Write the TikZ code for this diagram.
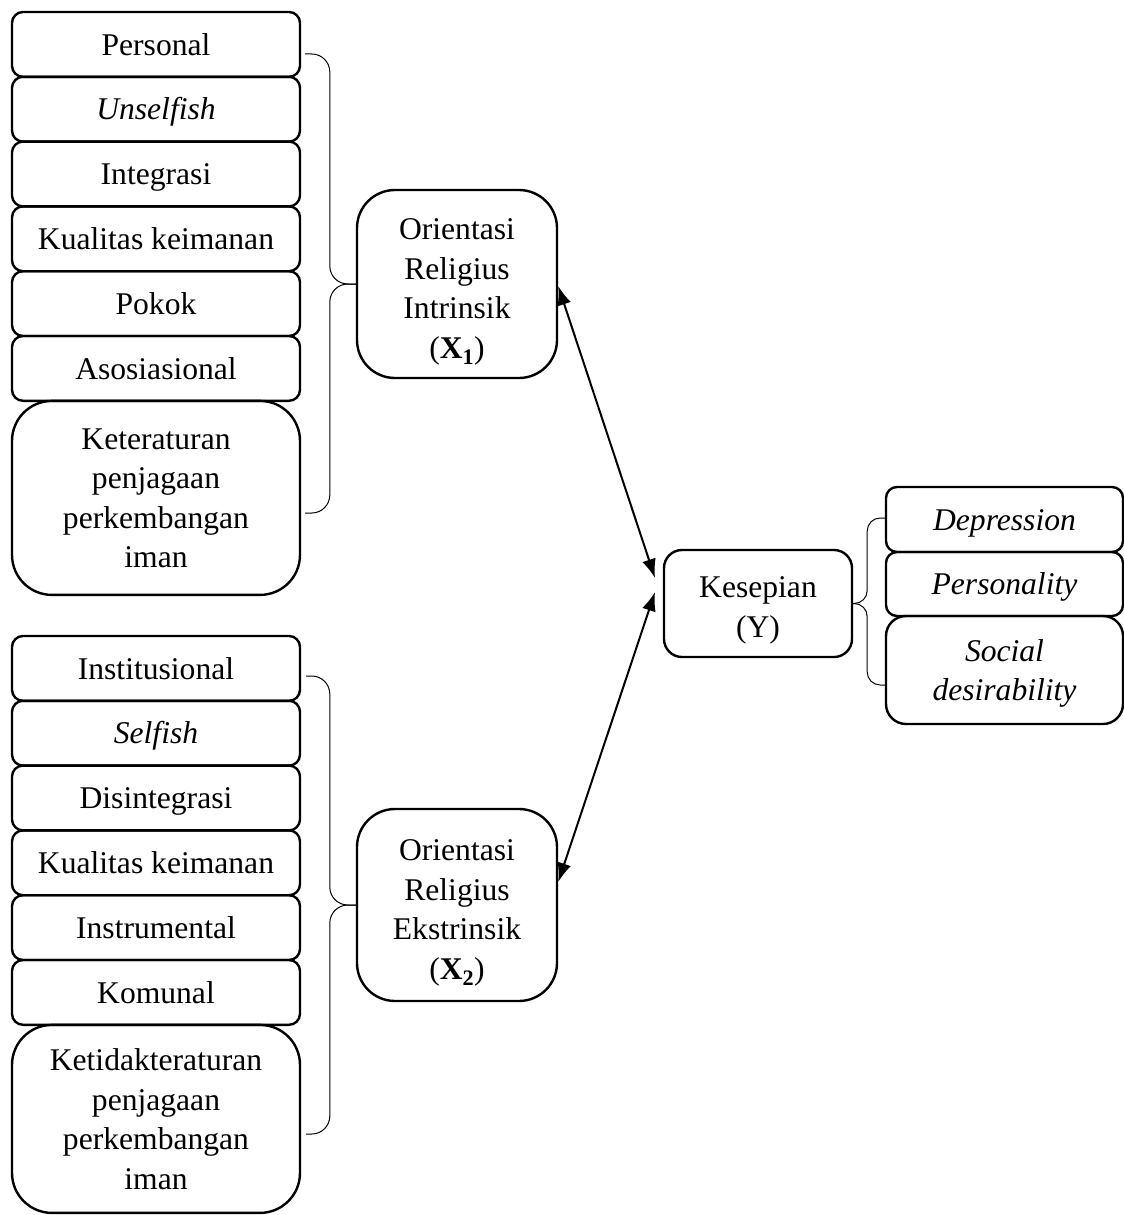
\documentclass[tikz,border=0pt]{standalone}
\usepackage{fontspec}
\setmainfont{Liberation Serif}
\usetikzlibrary{arrows.meta}

\tikzset{
	kotakdasar/.style={draw,line width=2.4pt,rounded corners=11pt,inner sep=0pt,
		minimum width=288pt,minimum height=64.8pt,align=center,text depth=0pt,
		font=\fontsize{31.6}{39.5}\selectfont},
	kotak/.style={kotakdasar,text height=21.5pt},
	kotakbesar/.style={kotakdasar,rounded corners=40pt},
	kurawal/.style={line width=1pt,rounded corners=18pt},
	panah/.style={{Latex[length=19pt,width=14pt]}-{Latex[length=19pt,width=14pt]},line width=2pt}
}

\begin{document}
\begin{tikzpicture}[x=1pt,y=-1pt]
			\useasboundingbox (0,0) rectangle (1124,1215);
			% indikator intrinsik
			\node[kotak] (personal) at (156,44.4) {Personal};
			\node[kotak] (unselfish) at (156,109.2) {\textit{Unselfish}};
			\node[kotak] (integrasi) at (156,174) {Integrasi};
			\node[kotak] (kualitasa) at (156,238.8) {Kualitas keimanan};
			\node[kotak] (pokok) at (156,303.6) {Pokok};
			\node[kotak] (asosiasional) at (156,368.4) {Asosiasional};
			\node[kotakbesar,minimum height=194pt] (keteraturan) at (156,497.9) {Keteraturan\\penjagaan\\perkembangan\\iman};
			
			% indikator ekstrinsik
			\node[kotak] (institusional) at (156,668.4) {Institusional};
			\node[kotak] (selfish) at (156,733.2) {\textit{Selfish}};
			\node[kotak] (disintegrasi) at (156,798) {Disintegrasi};
			\node[kotak] (kualitasb) at (156,862.8) {Kualitas keimanan};
			\node[kotak] (instrumental) at (156,927.6) {Instrumental};
			\node[kotak] (komunal) at (156,992.4) {Komunal};
			\node[kotakbesar,minimum height=188pt] (ketidakteraturan) at (156,1118.9) {Ketidakteraturan\\penjagaan\\perkembangan\\iman};
			
			% variabel
			\node[kotakdasar,rounded corners=38pt,minimum width=200pt,minimum height=188pt] (xsatu) at (457,284) {\rule{0pt}{30pt}Orientasi\\Religius\\Intrinsik\\(\textbf{X}\textsubscript{\textbf{1}})};
			\node[kotakdasar,rounded corners=38pt,minimum width=200pt,minimum height=192pt] (xdua) at (457,905) {\rule{0pt}{30pt}Orientasi\\Religius\\Ekstrinsik\\(\textbf{X}\textsubscript{\textbf{2}})};
			\node[kotakdasar,rounded corners=18pt,minimum width=188pt,minimum height=107pt] (kesepian) at (758,603.5) {\rule{0pt}{28pt}Kesepian\\(Y)};
			
			% indikator kesepian
			\node[kotak,minimum width=237pt,minimum height=65pt] (depression) at (1004.5,519.5) {\textit{Depression}};
			\node[kotak,minimum width=237pt,minimum height=64pt] (personality) at (1004.5,584) {\textit{Personality}};
			\node[kotakdasar,rounded corners=20pt,minimum width=237pt,minimum height=108pt] (social) at (1004.5,670) {\textit{Social}\\\textit{desirability}};
			
			% kurung kurawal
			\coordinate (ka1) at (305,54);
			\coordinate (ka2) at (305,513);
			\coordinate (kb1) at (306,676);
			\coordinate (kb2) at (306,1134);
			\coordinate (kc1) at (885,518);
			\coordinate (kc2) at (885,685);
			\draw[kurawal] (ka1) -| ([xshift=-26pt]xsatu.west) -- (xsatu.west);
			\draw[kurawal] (xsatu.west) -- ([xshift=-26pt]xsatu.west) |- (ka2);
			\draw[kurawal] (kb1) -| ([xshift=-26pt]xdua.west) -- (xdua.west);
			\draw[kurawal] (xdua.west) -- ([xshift=-26pt]xdua.west) |- (kb2);
			\draw[kurawal,rounded corners=13pt] (kc1) -| ([xshift=14pt]kesepian.east) -- (kesepian.east);
			\draw[kurawal,rounded corners=13pt] (kesepian.east) -- ([xshift=14pt]kesepian.east) |- (kc2);
			
			% panah
			\coordinate (ujung1) at (655,578);
			\coordinate (ujung2) at (655,592);
			\draw[panah] ([yshift=-2pt]xsatu.east) -- (ujung1);
			\draw[panah] ([yshift=23pt]xdua.east) -- (ujung2);
		\end{tikzpicture}
\end{document}
